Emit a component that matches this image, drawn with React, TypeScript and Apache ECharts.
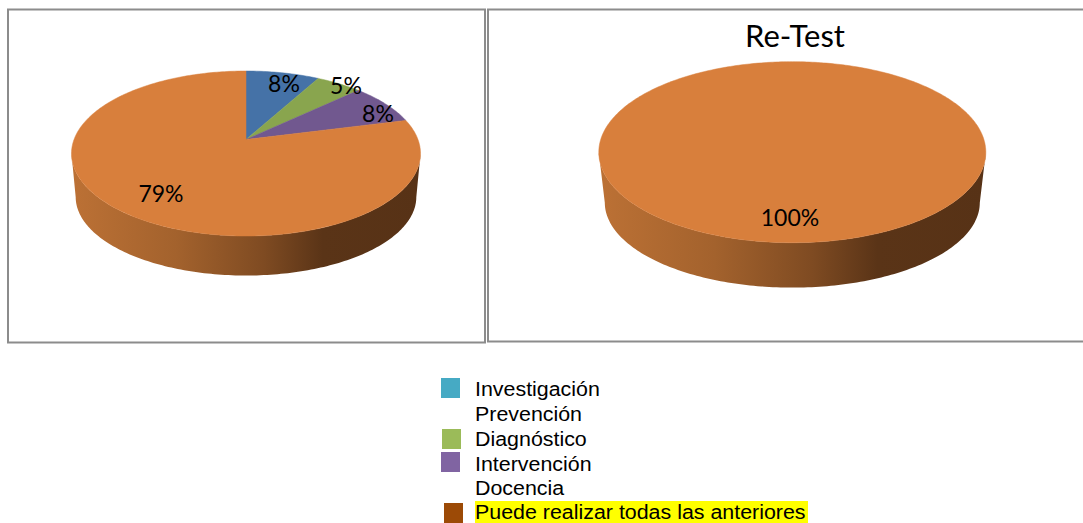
import React, { useEffect, useRef } from "react";
import * as echarts from "echarts";

const categories = ["Investigación", "Prevención", "Diagnóstico", "Intervención", "Docencia", "Puede realizar todas las anteriores"];
const preTestValues = [8, 0, 5, 8, 0, 79];
const reTestValues = [0, 0, 0, 0, 0, 100];
const sliceColors = ["#4572A7", "#C0504D", "#89A54E", "#71588F", "#4198AF", "#D87F3C"];
const legendColors = ["#46AAC4", null, "#9BBB59", "#8064A2", null, "#9C4A06"];
const reTestTitle = "Re-Test";

const WALL_STOPS = [
  { offset: 0, color: "#BC7135" },
  { offset: 0.3, color: "#A3622D" },
  { offset: 0.55, color: "#7F4B22" },
  { offset: 0.72, color: "#5A3417" },
  { offset: 1, color: "#573216" },
];
const LABEL_FONT = "Lato, sans-serif";
const LEGEND_FONT = "'Liberation Sans', sans-serif";

type Geometry = {
  cx: number; rx: number; top: number; bottom: number; tip: number;
  widest: number; wallK: number; wallY: number; wallM: number;
};

const preGeometry: Geometry = { cx: 246, rx: 174.5, top: 71, bottom: 236, tip: 139.5, widest: 153.5, wallK: 0.976, wallY: 197, wallM: 0.952 };
const reGeometry: Geometry = { cx: 792.3, rx: 193.5, top: 61.7, bottom: 242.7, tip: 136.8, widest: 152.7, wallK: 0.969, wallY: 203, wallM: 0.94 };

const preLabelAt: Record<number, [number, number]> = { 0: [284, 83], 2: [346, 85], 3: [378, 113], 5: [161, 193] };
const reLabelAt: Record<number, [number, number]> = { 5: [790, 217] };

function projector(g: Geometry) {
  const c = (2 * g.tip - g.top - g.bottom) / (g.bottom - g.top);
  const a = g.tip - g.top + g.top * c;
  let maxU = 0;
  for (let i = 0; i <= 360; i++) {
    const t = (i * Math.PI) / 180;
    maxU = Math.max(maxU, Math.abs(Math.sin(t)) / (1 - c * Math.cos(t)));
  }
  const d = g.rx / maxU;
  return (deg: number): [number, number] => {
    const t = (deg * Math.PI) / 180;
    const u = Math.sin(t);
    const v = -Math.cos(t);
    const den = 1 + c * v;
    return [g.cx + (d * u) / den, (a * v + g.tip) / den];
  };
}

function pieSeries(name: string, values: number[], g: Geometry, labelAt: Record<number, [number, number]>) {
  const project = projector(g);
  let tRight = 0;
  let tLeft = 0;
  for (let i = 0; i < 360; i++) {
    if (project(i)[0] > project(tRight)[0]) tRight = i;
    if (project(i)[0] < project(tLeft)[0]) tLeft = i;
  }
  const total = values.reduce((s, v) => s + v, 0);
  const lower = ([x, y]: [number, number]): [number, number] => [
    g.cx + (x - g.cx) * g.wallK,
    g.wallY + (y - g.widest) * g.wallM,
  ];
  return {
    type: "custom",
    name,
    coordinateSystem: "none",
    silent: true,
    clip: false,
    data: values.map((v, i) => ({ name: categories[i], value: [v] })),
    renderItem: (params: any, api: any) => {
      const i = params.dataIndex;
      const value = api.value(0);
      if (!value) return { type: "group", children: [] };
      const before = values.slice(0, i).reduce((s, v) => s + v, 0);
      const start = (before / total) * 360;
      const end = ((before + value) / total) * 360;
      const children: any[] = [];

      const from = Math.max(start, tRight);
      const to = Math.min(end, tLeft);
      if (to > from) {
        const upper: [number, number][] = [];
        for (let t = from; t < to; t += 1) upper.push(project(t));
        upper.push(project(to));
        const points = [...upper, ...upper.slice().reverse().map(lower)];
        children.push({
          type: "polygon",
          shape: { points },
          style: {
            fill: new echarts.graphic.LinearGradient(g.cx - g.rx, 0, g.cx + g.rx, 0, WALL_STOPS, true),
          },
        });
      }

      const whole = end - start >= 360;
      const rim: [number, number][] = whole ? [] : [[g.cx, g.tip]];
      for (let t = start; t < end; t += 1) rim.push(project(t));
      if (!whole) rim.push(project(end));
      children.push({
        type: "polygon",
        shape: { points: rim },
        style: { fill: sliceColors[i], stroke: sliceColors[i], lineWidth: 0.5 },
      });

      const at = labelAt[i];
      if (at) {
        children.push({
          type: "text",
          x: at[0],
          y: at[1],
          z2: 10,
          style: {
            text: `${Math.round((value / total) * 100)}%`,
            font: `23px ${LABEL_FONT}`,
            fill: "#000",
            align: "center",
            verticalAlign: "middle",
          },
        });
      }
      return { type: "group", children };
    },
  };
}

const legendRows = [389, 414, 439, 464, 488, 512];
const swatchBoxes: ([number, number] | null)[] = [[441, 378], null, [442, 429], [441, 452], null, [444, 503]];

function buildGraphics() {
  const frame = (x: number, y: number, width: number, height: number) => ({
    type: "rect",
    shape: { x, y, width, height },
    style: { fill: "none", stroke: "#8C8C8C", lineWidth: 2 },
  });
  const items: any[] = [frame(8, 9.5, 477, 333), frame(488, 9.5, 600, 332)];
  items.push({
    type: "rect",
    shape: { x: 475, y: 501, width: 333, height: 22 },
    style: { fill: "#FFFF00" },
  });
  categories.forEach((cat, i) => {
    const box = swatchBoxes[i];
    const color = legendColors[i];
    if (box && color) {
      items.push({ type: "rect", shape: { x: box[0], y: box[1], width: 19, height: 20 }, style: { fill: color } });
    }
    items.push({
      type: "text",
      x: 475,
      y: legendRows[i],
      scaleX: 1.07,
      style: { text: cat, font: `20px ${LEGEND_FONT}`, fill: "#000", align: "left", verticalAlign: "middle" },
    });
  });
  items.push({
    type: "text",
    x: 795,
    y: 35,
    style: { text: reTestTitle, font: `31px ${LABEL_FONT}`, fill: "#000", align: "center", verticalAlign: "middle" },
  });
  return items;
}

export default function App() {
  const ref = useRef<HTMLDivElement>(null);
  useEffect(() => {
    if (!ref.current) return;
    const chart = echarts.init(ref.current, undefined, { renderer: "svg" });
    chart.setOption({
      animation: false,
      backgroundColor: "#fff",
      series: [
        pieSeries("Pre-Test", preTestValues, preGeometry, preLabelAt),
        pieSeries("Re-Test", reTestValues, reGeometry, reLabelAt),
      ],
      graphic: buildGraphics(),
    });
    return () => chart.dispose();
  }, []);
  return <div ref={ref} style={{ position: "fixed", left: 0, top: 0, width: 1083, height: 523 }} />;
}
